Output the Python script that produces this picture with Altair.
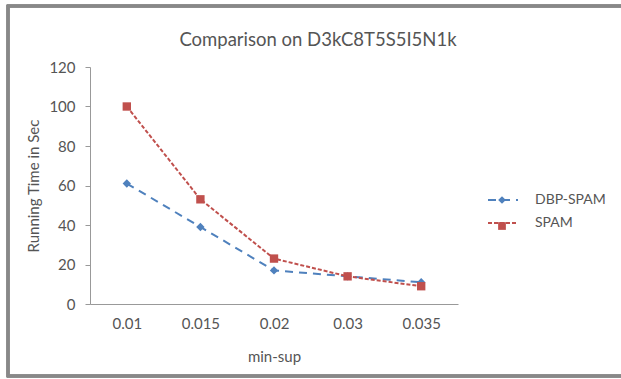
import altair as alt
import pandas as pd

categories = ["0.01", "0.015", "0.02", "0.03", "0.035"]
dbp_spam = [61, 39, 17, 14, 11]
spam = [100, 53, 23, 14, 9]
series_names = ["DBP-SPAM", "SPAM"]
marker_names = ["DBP-SPAM marker", "SPAM marker"]
y_ticks = [0, 20, 40, 60, 80, 100, 120]

rows = []
for name, mname, vals in zip(series_names, marker_names, [dbp_spam, spam]):
    for c, v in zip(categories, vals):
        rows.append({"min-sup": c, "time": v, "series": name, "marker": mname})
df = pd.DataFrame(rows)

FONT = "Lato"
TXT = "#555555"
colors = ["#4F81BD", "#C0504D"]

x = alt.X("min-sup:O", sort=categories, title="min-sup",
          scale=alt.Scale(type="point", padding=0.5),
          axis=alt.Axis(labelAngle=0, ticks=False, domainColor="#999999",
                        labelFontSize=15, labelColor=TXT, labelPadding=12,
                        titleFontSize=15, titleColor=TXT, titleFontWeight="normal",
                        titlePadding=18, labelFont=FONT, titleFont=FONT))
y = alt.Y("time:Q", title="Running Time in Sec",
          scale=alt.Scale(domain=[0, 120]),
          axis=alt.Axis(values=y_ticks, grid=False, domainColor="#999999",
                        tickColor="#999999", tickSize=5,
                        labelFontSize=15, labelColor=TXT, labelPadding=10,
                        titleFontSize=15, titleColor=TXT, titleFontWeight="normal",
                        titlePadding=7, labelFont=FONT, titleFont=FONT))

LX, LY = 397, 117

line_legend = alt.Legend(title=None, orient="none", legendX=LX, legendY=LY,
                         labelFontSize=14, labelColor=TXT, labelFont=FONT,
                         rowPadding=-4, symbolSize=900, symbolStrokeWidth=2,
                         labelOffset=16)
color = alt.Color("series:N", scale=alt.Scale(domain=series_names, range=colors),
                  legend=line_legend)
dash = alt.StrokeDash("series:N",
                      scale=alt.Scale(domain=series_names, range=[[8, 6], [4, 2]]),
                      legend=line_legend)
mlegend = alt.Legend(title=None, orient="none", legendX=LX + 11, legendY=LY + 12,
                     labelExpr="''", labelFontSize=1, labelOffset=0,
                     rowPadding=18, symbolSize=60, symbolStrokeWidth=0)
shape = alt.Shape("marker:N",
                  scale=alt.Scale(domain=marker_names, range=["diamond", "square"]),
                  legend=mlegend)
fill = alt.Fill("marker:N", scale=alt.Scale(domain=marker_names, range=colors),
                legend=mlegend)

lines = alt.Chart(df).mark_line(strokeWidth=2).encode(x=x, y=y, color=color, strokeDash=dash)
points = alt.Chart(df).mark_point(filled=True, size=70, opacity=1, strokeWidth=0).encode(
    x=x, y=y, fill=fill, shape=shape)

frame = alt.Chart(df).mark_rect(fill=None, stroke="#888888", strokeWidth=2.5).encode(
    x=alt.value(-82), x2=alt.value(545), y=alt.value(-61), y2=alt.value(309))

chart = alt.layer(lines, points, frame).properties(
    width=368, height=237,
    title=alt.TitleParams("Comparison on D3kC8T5S5I5N1k", fontSize=18.5, font=FONT,
                          color=TXT, fontWeight="normal", dx=44, offset=0, dy=45,
                          frame="group"),
    autosize=alt.AutoSizeParams(type="none"),
    padding={"left": 90, "top": 67, "right": 163, "bottom": 74},
).configure(background="white").configure_view(stroke=None)

chart.save("out.html", embed_options={"renderer": "svg", "actions": False})
